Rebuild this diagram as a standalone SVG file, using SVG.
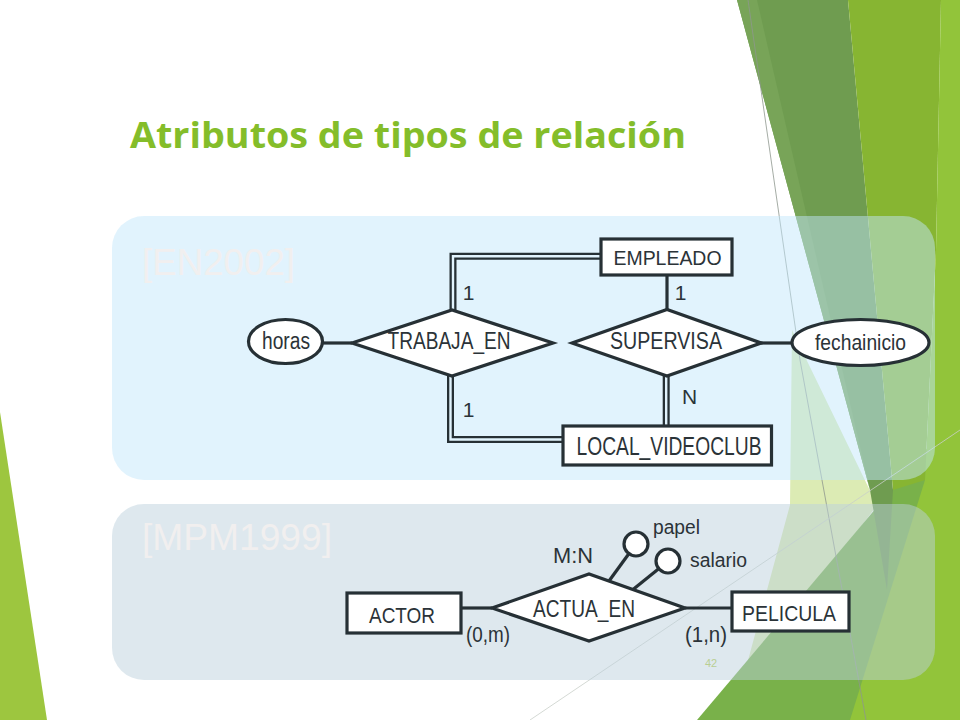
<svg xmlns="http://www.w3.org/2000/svg" width="960" height="720" viewBox="0 0 960 720">
<defs>
<style>
.t{font-family:"Liberation Sans",Arial,sans-serif;fill:#2B3338;text-anchor:middle}
.s{fill:#fff;stroke:#263035;stroke-width:3.2}
.ln{fill:none;stroke:#263035;stroke-width:3.2}
.dbo{fill:none;stroke:#263035;stroke-width:7}
.dbi{fill:none;stroke:#E1F3FD;stroke-width:2.4}
.ref{font-family:"Liberation Sans",Arial,sans-serif;font-size:36px;fill:#F1EFEF}
</style>
</defs>
<rect width="960" height="720" fill="#fff"/>
<g id="background">
<polygon points="0,412 47,720 0,720" fill="#9DC63F"/>
<polygon points="792,330 877,505 740,690 790,505" fill="#DCEBB4"/>
<polygon points="697,720 877,507 960,410 960,720" fill="#79B14A"/>
<polygon points="737,0 848,0 893,490 887,590 870,490" fill="#6F9C50"/>
<polygon points="737,0 757,0 870,490" fill="#78A458"/>
<polygon points="848,0 941,0 936,250 925,480 893,490" fill="#87B532"/>
<polygon points="941,0 960,0 960,720 850,720 925,480 936,250" fill="#92C43A"/>
<path d="M748,0 L800,360 L866,720" fill="none" stroke="#8E978E" stroke-width="0.8"/>
<path d="M530,720 L960,430" fill="none" stroke="#C9CFC9" stroke-width="0.8"/>
</g>
<text x="130" y="148" font-family="'Open Sans','DejaVu Sans',sans-serif" font-weight="700" font-size="36" fill="#84BD2A" textLength="556" lengthAdjust="spacingAndGlyphs">Atributos de tipos de relación</text>
<g id="panel-top">
<rect x="112" y="216" width="823" height="264" rx="32" fill="#C1E6FB" fill-opacity="0.49"/>
<text class="ref" x="142" y="275" textLength="153" lengthAdjust="spacingAndGlyphs">[EN2002]</text>
</g>
<g id="panel-bottom">
<rect x="112" y="504" width="823" height="176" rx="32" fill="#BBD0DC" fill-opacity="0.49"/>
<text class="ref" x="142" y="550" textLength="190" lengthAdjust="spacingAndGlyphs">[MPM1999]</text>
</g>
<g id="connectors">
<line class="ln" x1="323" y1="343" x2="352" y2="343"/>
<line class="ln" x1="761" y1="343" x2="792" y2="343"/>
<line class="ln" x1="667" y1="275" x2="667" y2="310"/>
<path class="dbo" d="M453,311 V256.3 H601"/>
<path class="dbi" d="M453,311 V256.3 H601"/>
<path class="dbo" d="M450.5,376 V439.5 H563"/>
<path class="dbi" d="M450.5,376 V439.5 H563"/>
<path class="dbo" d="M666.2,376 V426"/>
<path class="dbi" d="M666.2,376 V426"/>
<line class="ln" x1="461" y1="608" x2="492" y2="608"/>
<line class="ln" x1="685" y1="608" x2="732" y2="608"/>
<line class="ln" x1="629" y1="553.5" x2="609" y2="581"/>
<line class="ln" x1="659" y1="568.5" x2="633" y2="589.5"/>
<text class="t" x="468.5" y="300" font-size="21">1</text>
<text class="t" x="468.5" y="417" font-size="21">1</text>
<text class="t" x="680.5" y="300" font-size="21">1</text>
<text class="t" x="689.5" y="404" font-size="21">N</text>
<text class="t" x="488" y="642" font-size="22" textLength="44" lengthAdjust="spacingAndGlyphs">(0,m)</text>
<text class="t" x="706" y="642" font-size="22" textLength="42" lengthAdjust="spacingAndGlyphs">(1,n)</text>
<text class="t" x="573" y="563" font-size="22" textLength="40" lengthAdjust="spacingAndGlyphs">M:N</text>
</g>
<g id="horas">
<ellipse class="s" cx="285.5" cy="341.5" rx="37" ry="22"/>
<text class="t" x="286" y="349" font-size="23" textLength="48" lengthAdjust="spacingAndGlyphs">horas</text>
</g>
<g id="trabaja_en">
<polygon class="s" points="352,343 452,310 553,343 452,376"/>
<text class="t" x="449" y="349" font-size="23" textLength="123" lengthAdjust="spacingAndGlyphs">TRABAJA_EN</text>
</g>
<g id="supervisa">
<polygon class="s" points="572,343 667,309.5 761,343 667,376"/>
<text class="t" x="666" y="349" font-size="23" textLength="112" lengthAdjust="spacingAndGlyphs">SUPERVISA</text>
</g>
<g id="fechainicio">
<ellipse class="s" cx="860.5" cy="342.5" rx="68.5" ry="23"/>
<text class="t" x="860.5" y="349.5" font-size="22" textLength="91" lengthAdjust="spacingAndGlyphs">fechainicio</text>
</g>
<g id="empleado">
<rect class="s" x="601" y="239" width="131" height="36"/>
<text class="t" x="667.5" y="264.5" font-size="21" textLength="108" lengthAdjust="spacingAndGlyphs">EMPLEADO</text>
</g>
<g id="local_videoclub">
<rect class="s" x="563" y="426" width="208.5" height="39"/>
<text class="t" x="669" y="455" font-size="25" textLength="185" lengthAdjust="spacingAndGlyphs">LOCAL_VIDEOCLUB</text>
</g>
<g id="actor">
<rect class="s" x="347" y="593" width="114" height="40"/>
<text class="t" x="402" y="622.7" font-size="22" textLength="66" lengthAdjust="spacingAndGlyphs">ACTOR</text>
</g>
<g id="actua_en">
<polygon class="s" points="492,608 589,574 685,608 589,641"/>
<text class="t" x="584" y="616.5" font-size="23" textLength="102" lengthAdjust="spacingAndGlyphs">ACTUA_EN</text>
</g>
<g id="pelicula">
<rect class="s" x="732" y="592" width="117" height="39"/>
<text class="t" x="789" y="620.7" font-size="22" textLength="94" lengthAdjust="spacingAndGlyphs">PELICULA</text>
</g>
<g id="papel">
<circle class="s" cx="636" cy="544" r="12"/>
<text class="t" x="676.5" y="534" font-size="20" textLength="47" lengthAdjust="spacingAndGlyphs">papel</text>
</g>
<g id="salario">
<circle class="s" cx="668" cy="561" r="12"/>
<text class="t" x="718.5" y="567" font-size="20" textLength="57" lengthAdjust="spacingAndGlyphs">salario</text>
</g>
<text x="711" y="667" font-family="'Liberation Sans',Arial,sans-serif" font-size="11" fill="#B9CF93" text-anchor="middle">42</text>
</svg>
